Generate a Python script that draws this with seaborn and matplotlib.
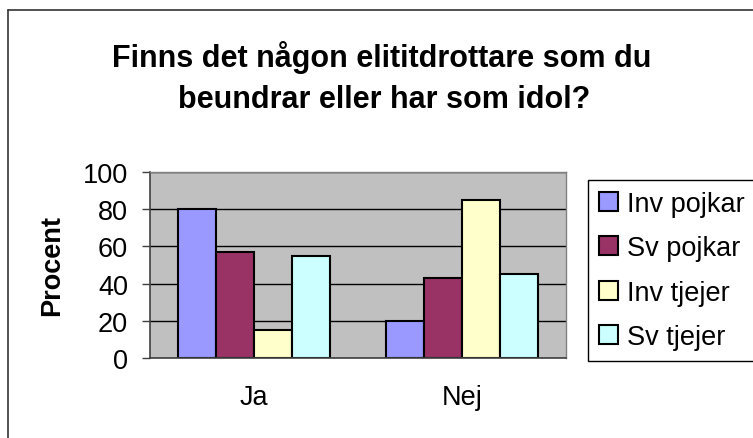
import pandas as pd
import numpy as np
import matplotlib
matplotlib.use("Agg")
import matplotlib.pyplot as plt
from matplotlib.lines import Line2D
import seaborn as sns

# data
svar = ["Ja", "Nej"]
grupper = ["Inv pojkar", "Sv pojkar", "Inv tjejer", "Sv tjejer"]
inv_pojkar = [80, 20]
sv_pojkar = [57, 43]
inv_tjejer = [15, 85]
sv_tjejer = [55, 45]
farger = ["#9999FF", "#993366", "#FFFFCC", "#CCFFFF"]

rows = []
for grupp, vals in zip(grupper, [inv_pojkar, sv_pojkar, inv_tjejer, sv_tjejer]):
    for s, v in zip(svar, vals):
        rows.append({"svar": s, "grupp": grupp, "procent": v})
df = pd.DataFrame(rows)

sns.set_style("white")
plt.rcParams['font.family'] = ['Liberation Sans', 'DejaVu Sans']
plt.rcParams['text.color'] = "black"
plt.rcParams['xtick.color'] = "black"
plt.rcParams['ytick.color'] = "black"
plt.rcParams['axes.labelcolor'] = "black"

W, H = 753, 439
fig = plt.figure(figsize=(W / 100, H / 100), dpi=100)
ax = fig.add_axes([150 / W, 1 - 359 / H, (566 - 150) / W, (359 - 173) / H])

sns.barplot(data=df, x="svar", y="procent", hue="grupp", order=svar,
            hue_order=grupper, palette=farger, width=0.733,
            edgecolor="black", linewidth=1.5, saturation=1, ax=ax)

ax.set_facecolor("#C0C0C0")
ax.set_ylim(0, 100)
ax.set_xlim(-0.5, 1.5)
ax.set_yticks(np.arange(0, 101, 20))
ax.yaxis.grid(True, color="black", linewidth=1)
ax.set_axisbelow(True)

for side in ["top", "right"]:
    ax.spines[side].set_visible(True)
    ax.spines[side].set_color("#808080")
    ax.spines[side].set_linewidth(1)
for side in ["left", "bottom"]:
    ax.spines[side].set_color("#404040")
    ax.spines[side].set_linewidth(1.2)

ax.set_xticks([-0.5, 0.5, 1.5], minor=True)
ax.tick_params(axis="x", which="minor", length=5.8, width=1, color="#404040", direction="out")
ax.tick_params(axis="x", which="major", length=0, pad=19, labelsize=19.5)
ax.tick_params(axis="y", length=5.8, width=1, color="#404040", direction="out",
               pad=10, labelsize=19.5, left=True)
ax.set_xlabel("")
ax.set_ylabel("")

fig.text(52 / W, 1 - 266 / H, "Procent", rotation=90, ha="center", va="center",
         fontsize=19.5, fontweight="bold")

fig.text(382 / W, 1 - 67 / H, "Finns det någon elititdrottare som du", ha="center",
         va="baseline", fontsize=22, fontweight="bold")
fig.text(384 / W, 1 - 108 / H, "beundrar eller har som idol?", ha="center",
         va="baseline", fontsize=22, fontweight="bold")

handles, labels = ax.get_legend_handles_labels()
ax.legend(handles, labels, loc="upper left", bbox_to_anchor=(588 / W, 1 - 181 / H),
          bbox_transform=fig.transFigure, borderaxespad=0, fontsize=19.5,
          frameon=True, fancybox=False, edgecolor="black", framealpha=1,
          handlelength=0.7, handleheight=0.7, handletextpad=0.33,
          labelspacing=0.68, borderpad=0.4)
ax.get_legend().get_frame().set_linewidth(1)

# outer chart border (only left and top fall inside the image)
fig.add_artist(Line2D([8 / W, 8 / W], [0, 1 - 11 / H], transform=fig.transFigure,
                      color="#333333", linewidth=1.2))
fig.add_artist(Line2D([8 / W, 1], [1 - 11 / H, 1 - 11 / H], transform=fig.transFigure,
                      color="#333333", linewidth=1.2))

fig.savefig("out.png", dpi=100, facecolor="white")
